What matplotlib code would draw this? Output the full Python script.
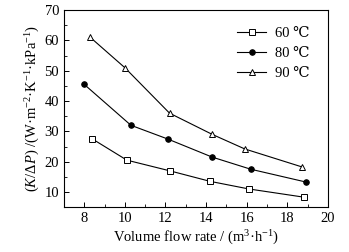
import matplotlib
matplotlib.use("Agg")
import matplotlib.pyplot as plt
from matplotlib.ticker import MultipleLocator

plt.rcParams["font.family"] = ["Liberation Serif", "DejaVu Serif"]
plt.rcParams["mathtext.fontset"] = "custom"
plt.rcParams["mathtext.rm"] = "Liberation Serif"
plt.rcParams["mathtext.it"] = "Liberation Serif:italic"

x60 = [8.4, 10.1, 12.2, 14.2, 16.1, 18.8]
y60 = [27.5, 20.5, 17.0, 13.5, 11.0, 8.3]
x80 = [8.0, 10.3, 12.1, 14.3, 16.2, 18.9]
y80 = [45.5, 32.0, 27.5, 21.5, 17.5, 13.3]
x90 = [8.3, 10.0, 12.2, 14.3, 15.9, 18.7]
y90 = [61.0, 51.0, 36.0, 29.0, 24.2, 18.3]

fig = plt.figure(figsize=(3.49, 2.52), dpi=100)
ax = fig.add_axes([0.183, 0.178, 0.757, 0.782])

kw = dict(color="black", lw=0.8, ms=4, mew=0.7)
ax.plot(x60, y60, marker="s", mfc="white", label="60 ℃", **kw)
ax.plot(x80, y80, marker="o", mfc="black", label="80 ℃", **kw)
ax.plot(x90, y90, marker="^", mfc="white", label="90 ℃", **kw)

ax.set_xlim(7, 20)
ax.set_ylim(5, 70)
ax.xaxis.set_major_locator(MultipleLocator(2))
ax.xaxis.set_minor_locator(MultipleLocator(1))
ax.yaxis.set_major_locator(MultipleLocator(10))
ax.yaxis.set_minor_locator(MultipleLocator(5))
ax.set_yticks([10, 20, 30, 40, 50, 60, 70])
ax.tick_params(which="both", direction="in", top=False, right=False, labelsize=10.5)
ax.tick_params(which="major", length=3.5, width=0.7)
ax.tick_params(which="minor", length=2, width=0.6)
for s in ax.spines.values():
    s.set_linewidth(0.8)

ax.set_xlabel("Volume flow rate / (m$^3$·h$^{-1}$)", fontsize=10.5, labelpad=3)
ax.set_ylabel("($\\mathit{K}$/Δ$\\mathit{P}$) /(W·m$^{-2}$·K$^{-1}$·kPa$^{-1}$)",
              fontsize=10.5, labelpad=2)

ax.legend(loc="upper right", frameon=False, fontsize=10.5, handlelength=2.0,
          borderaxespad=0.5, labelspacing=0.45, handletextpad=0.6,
          bbox_to_anchor=(0.98, 0.98))

fig.savefig("out.png", dpi=100)
